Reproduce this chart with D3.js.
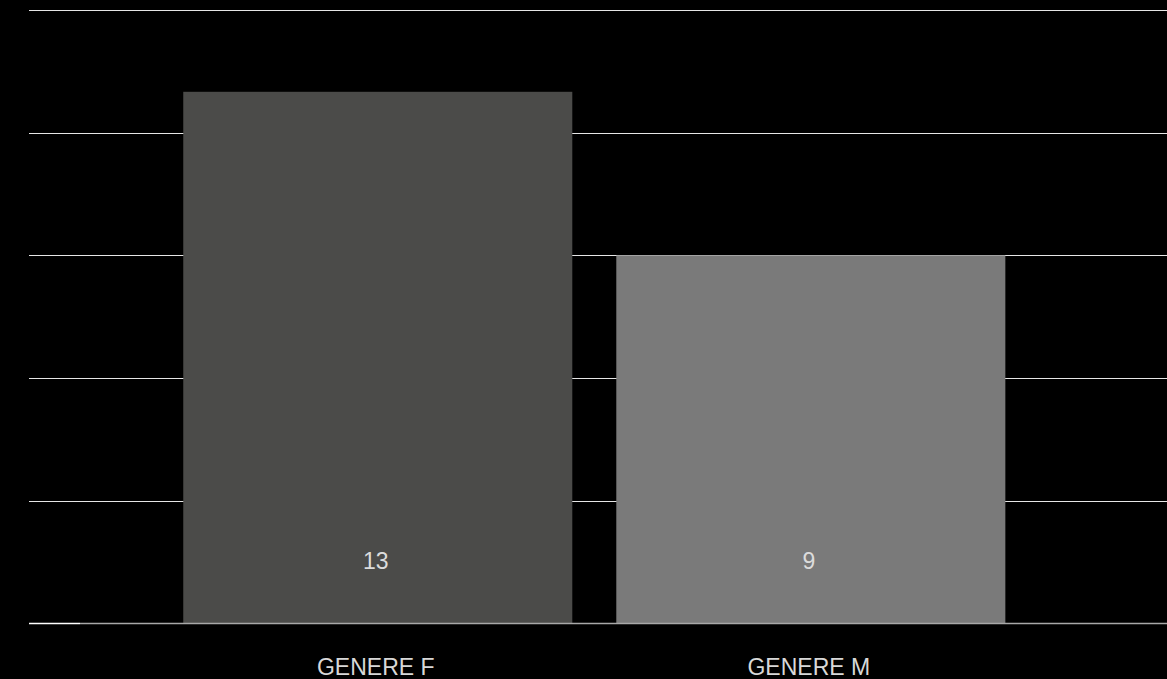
<!DOCTYPE html>
<html>
<head>
<meta charset="utf-8">
<script src="https://cdn.jsdelivr.net/npm/d3@7"></script>
<style>
  html, body { margin: 0; padding: 0; background: #000; }
  svg { display: block; }
</style>
</head>
<body>
<svg id="chart" width="1167" height="679"></svg>
<script>
const categories = ["GENERE F", "GENERE M"];
const values = [13, 9];
const barColors = ["#4b4b49", "#7a7a7a"];
const yTicks = [0, 3, 6, 9, 12, 15];

const svg = d3.select("#chart");
const W = 1167, H = 679;
svg.append("rect").attr("width", W).attr("height", H).attr("fill", "#000");

const y = d3.scaleLinear().domain([0, 15]).range([623.5, 10]);
const x = d3.scaleBand().domain(categories).range([161.6, 1027])
  .paddingInner(0.1016).paddingOuter(0.05);

// gridlines
svg.append("g").selectAll("line").data(yTicks.filter(t => t > 0)).join("line")
  .attr("x1", 29).attr("x2", W)
  .attr("y1", d => Math.round(y(d)) + 0.5).attr("y2", d => Math.round(y(d)) + 0.5)
  .attr("stroke", "#e6e6e6").attr("stroke-width", 1.2);

// bars
svg.append("g").selectAll("rect").data(categories).join("rect")
  .attr("x", d => x(d)).attr("width", x.bandwidth())
  .attr("y", (d, i) => y(values[i])).attr("height", (d, i) => y(0) - y(values[i]))
  .attr("fill", (d, i) => barColors[i]);

// baseline
svg.append("line").attr("x1", 80).attr("x2", W)
  .attr("y1", 623.5).attr("y2", 623.5)
  .attr("stroke", "#a8a8a8").attr("stroke-width", 1.5);
svg.append("line").attr("x1", 29).attr("x2", 80)
  .attr("y1", 623.5).attr("y2", 623.5)
  .attr("stroke", "#ffffff").attr("stroke-width", 1.5);

// value labels
svg.append("g").selectAll("text").data(categories).join("text")
  .attr("x", d => x(d) + x.bandwidth() / 2 - 2)
  .attr("y", 569)
  .attr("text-anchor", "middle")
  .attr("font-family", "Liberation Sans, Arial, Helvetica, sans-serif")
  .attr("font-size", 23)
  .attr("fill", "#dcdcdc")
  .text((d, i) => values[i]);

// category labels
svg.append("g").selectAll("text").data(categories).join("text")
  .attr("x", d => x(d) + x.bandwidth() / 2 - 2)
  .attr("y", 675)
  .attr("text-anchor", "middle")
  .attr("font-family", "Liberation Sans, Arial, Helvetica, sans-serif")
  .attr("font-size", 23)
  .attr("fill", "#d8d8d8")
  .text(d => d);
</script>
</body>
</html>
